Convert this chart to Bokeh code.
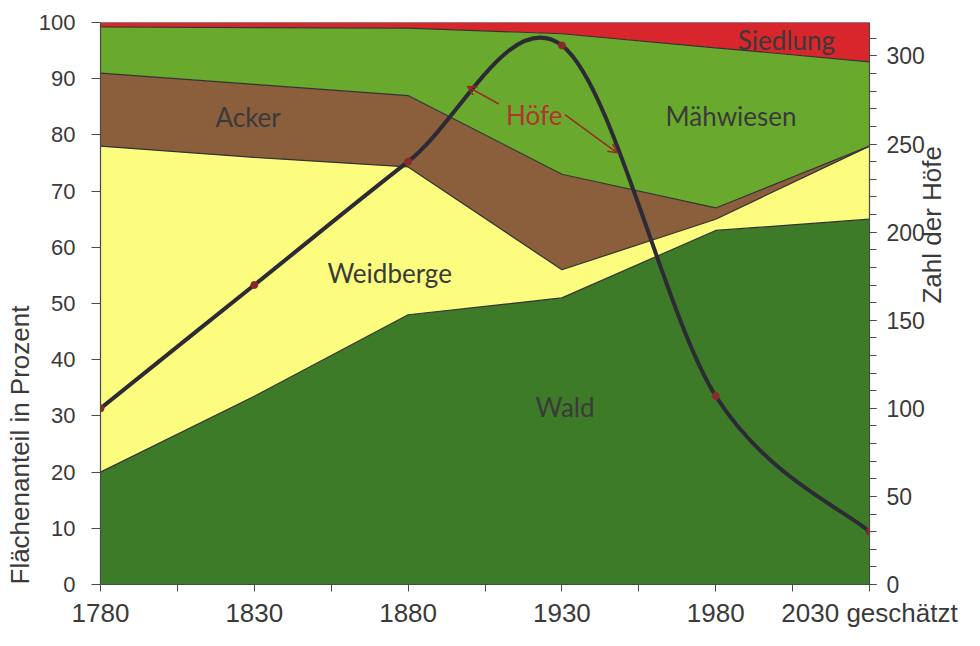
import math
from bokeh.plotting import figure
from bokeh.models import (Range1d, LinearAxis, FixedTicker, SingleIntervalTicker,
                          ColumnDataSource, Arrow, OpenHead, Label, Title)
from bokeh.embed import file_html
from bokeh.resources import INLINE

# ---------------- data ----------------
years = [1780, 1830, 1880, 1930, 1980, 2030]
wald = [20, 33.5, 48, 51, 63, 65]
weidberge = [58, 42.5, 26.3, 5, 2, 13]
acker = [13, 13, 12.7, 17, 2, 0]
maehwiesen = [8.2, 10.1, 12, 25, 28.5, 15]
siedlung = [0.8, 0.9, 1, 2, 4.5, 7]
hoefe = [100, 170, 240, 306, 107, 30]

area_names = ["wald", "weidberge", "acker", "maehwiesen", "siedlung"]
area_colors = ["#3e7b28", "#fcfc7e", "#8b5e3c", "#69aa2e", "#d8262c"]
x_major = [1780, 1830, 1880, 1930, 1980, 2030]
x_minor = [1805, 1855, 1905, 1955, 2005]
x_label_over = {2030: "2030 geschätzt"}

src = ColumnDataSource(dict(x=years, wald=wald, weidberge=weidberge, acker=acker,
                            maehwiesen=maehwiesen, siedlung=siedlung))

TXT = "#3a3a3a"
AX = "#4a4a4a"

p = figure(width=964, height=630, x_range=Range1d(1780, 2030), y_range=Range1d(0, 100),
           output_backend="svg", toolbar_location=None,
           min_border_left=100, min_border_right=90, min_border_top=22, min_border_bottom=40)
p.extra_y_ranges = {"hoefe": Range1d(0, 319)}
p.xgrid.visible = False
p.ygrid.visible = False
p.outline_line_color = None
p.background_fill_color = "white"

# stacked areas
p.varea_stack(stackers=area_names, x="x", color=area_colors, source=src)
# boundary lines between areas
p.vline_stack(stackers=area_names, x="x", color="#333333", line_width=1.2, source=src)

# Höfe curve (smoothed, Catmull-Rom style Bezier built from the data points)
n = len(years)
P = list(zip(years, hoefe))
bz = dict(x0=[], y0=[], x1=[], y1=[], cx0=[], cy0=[], cx1=[], cy1=[])
for i in range(n - 1):
    pm = P[max(i - 1, 0)]
    p0 = P[i]
    p1 = P[i + 1]
    p2 = P[min(i + 2, n - 1)]
    bz["x0"].append(p0[0]); bz["y0"].append(p0[1])
    bz["x1"].append(p1[0]); bz["y1"].append(p1[1])
    bz["cx0"].append(p0[0] + (p1[0] - pm[0]) / 6); bz["cy0"].append(p0[1] + (p1[1] - pm[1]) / 6)
    bz["cx1"].append(p1[0] - (p2[0] - p0[0]) / 6); bz["cy1"].append(p1[1] - (p2[1] - p0[1]) / 6)
p.bezier(x0="x0", y0="y0", x1="x1", y1="y1", cx0="cx0", cy0="cy0", cx1="cx1", cy1="cy1",
         source=ColumnDataSource(bz), y_range_name="hoefe", line_color="#2b2a35", line_width=4)
p.scatter(years, hoefe, y_range_name="hoefe", size=7, color="#8a2a2a")

# ---------------- axes ----------------
xa = p.xaxis[0]
xa.ticker = FixedTicker(ticks=x_major, minor_ticks=x_minor)
xa.major_label_overrides = x_label_over
ya = p.yaxis[0]
ya.ticker = FixedTicker(ticks=list(range(0, 101, 10)))

ra = LinearAxis(y_range_name="hoefe", ticker=SingleIntervalTicker(interval=50, num_minor_ticks=5),
                axis_label="Zahl der Höfe")
p.add_layout(ra, "right")

for ax in (xa, ya, ra):
    ax.axis_line_color = AX
    ax.axis_line_width = 1.2
    ax.major_tick_line_color = AX
    ax.minor_tick_line_color = AX
    ax.major_tick_in = 0
    ax.minor_tick_in = 0
    ax.major_tick_out = 7
    ax.minor_tick_out = 7
    ax.major_label_text_font = "Liberation Sans"
    ax.major_label_text_color = TXT
xa.major_label_text_font_size = "26px"
ya.major_label_text_font_size = "22px"
ra.major_label_text_font_size = "23px"
ya.minor_tick_out = 0
ya.major_tick_out = 9
ya.major_label_standoff = 16
ra.major_label_standoff = 10
xa.major_label_standoff = 6
ra.axis_label_text_font = "Liberation Sans"
ra.axis_label_text_font_size = "26px"
ra.axis_label_text_font_style = "normal"
ra.axis_label_text_color = TXT
ra.axis_label_standoff = 4
ra.axis_label_orientation = math.pi / 2

# left axis title, anchored at the bottom like the original
p.add_layout(Title(text="Flächenanteil in Prozent", align="left", text_font="Liberation Sans",
                   text_font_size="26px", text_font_style="normal", text_color=TXT,
                   standoff=2), "left")

# ---------------- labels ----------------
def lab(x, y, t, color=TXT):
    p.add_layout(Label(x=x, y=y, text=t, text_font="Lato", text_font_size="26px",
                       text_color=color, text_align="center", text_baseline="middle"))

lab(1828, 83.1, "Acker")
lab(1874, 55.4, "Weidberge")
lab(1931, 31.6, "Wald")
lab(1985, 83.4, "Mähwiesen")
lab(2003, 96.9, "Siedlung")
lab(1921, 83.6, "Höfe", "#b03530")

for (xs, ys, xe, ye) in [(1909.5, 85.5, 1899.3, 88.6), (1931.0, 83.6, 1948.0, 76.8)]:
    p.add_layout(Arrow(x_start=xs, y_start=ys, x_end=xe, y_end=ye, line_color="#9a2a28",
                       line_width=1.5, end=OpenHead(size=9, line_color="#9a2a28", line_width=1.5)))

open("out.html", "w").write(file_html(p, INLINE))
